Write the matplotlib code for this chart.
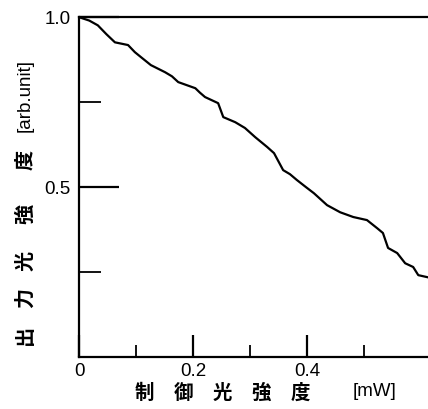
import matplotlib
matplotlib.use("Agg")
import matplotlib.pyplot as plt

# control light power [mW] vs output light intensity [arb.unit]
control_mw = [0.000, 0.018, 0.033, 0.048, 0.063, 0.086, 0.098, 0.109, 0.126, 0.151,
              0.163, 0.174, 0.204, 0.212, 0.221, 0.244, 0.253, 0.274, 0.291, 0.309,
              0.330, 0.342, 0.358, 0.370, 0.382, 0.398, 0.412, 0.435, 0.458, 0.481,
              0.505, 0.523, 0.533, 0.542, 0.558, 0.572, 0.586, 0.595, 0.611]
output_int = [1.000, 0.990, 0.976, 0.950, 0.926, 0.918, 0.897, 0.882, 0.859, 0.838,
              0.826, 0.809, 0.791, 0.778, 0.765, 0.747, 0.706, 0.691, 0.674, 0.647,
              0.618, 0.600, 0.550, 0.538, 0.521, 0.500, 0.482, 0.447, 0.426, 0.412,
              0.403, 0.379, 0.365, 0.321, 0.306, 0.276, 0.265, 0.241, 0.235]

x_major = [0, 0.2, 0.4]
x_major_labels = ["0", "0.2", "0.4"]
x_minor = [0.1, 0.3, 0.5]
y_major = [0.5, 1.0]
y_major_labels = ["0.5", "1.0"]
y_minor = [0.25, 0.75]

ylabel_chars = ["出", "力", "光", "強", "度"]

jp = ["Noto Sans CJK JP", "DejaVu Sans"]
num_font = "Liberation Sans"

fig = plt.figure(figsize=(4.28, 4.09), dpi=100)
ax = fig.add_axes([0.1846, 0.127, 0.826, 0.831])

ax.plot(control_mw, output_int, color="black", lw=1.6)

ax.set_xlim(0, 0.62)
ax.set_ylim(0, 1.0)
for s in ["left", "bottom", "top"]:
    ax.spines[s].set_linewidth(1.6)
ax.spines["right"].set_visible(False)

ax.set_xticks(x_major)
ax.set_xticklabels(x_major_labels, fontname=num_font, fontsize=13.5)
ax.set_xticks(x_minor, minor=True)
ax.set_yticks(y_major)
ax.set_yticklabels(y_major_labels, fontname=num_font, fontsize=13.5)
ax.set_yticks(y_minor, minor=True)

ax.tick_params(axis="x", which="major", direction="in", length=15.8, width=1.6, pad=4)
ax.tick_params(axis="x", which="minor", direction="in", length=8.6, width=1.3)
ax.tick_params(axis="y", which="major", direction="in", length=28.8, width=1.6, pad=6)
ax.tick_params(axis="y", which="minor", direction="in", length=15.8, width=1.3)

# axis titles
fig.text(0.52, 0.038, "制　御　光　強　度", family=jp, fontsize=14,
         fontweight="bold", ha="center", va="center")
fig.text(0.876, 0.042, "[mW]", fontname=num_font, fontsize=13.5,
         ha="center", va="center")

# y title: characters spaced out along the left edge, rotated
y_px = [335, 298, 261, 214, 160]
for ch, yp in zip(ylabel_chars, y_px):
    fig.text(0.058, 1 - yp / 409, ch, family=jp, fontsize=14.5,
             fontweight="bold", rotation=90, ha="center", va="center")
fig.text(0.058, 1 - 95 / 409, "[arb.unit]", fontname=num_font, fontsize=13.5,
         rotation=90, ha="center", va="center")

fig.savefig("out.png", dpi=100)
